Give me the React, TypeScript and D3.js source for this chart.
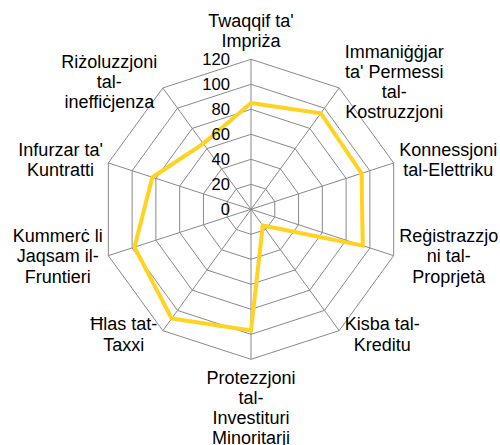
import * as d3 from "d3";

const categories = [
  ["Twaqqif ta'", "Impriża"],
  ["Immaniġġjar", "ta' Permessi", "tal-", "Kostruzzjoni"],
  ["Konnessjoni", "tal-Elettriku"],
  ["Reġistrazzjo", "ni tal-", "Proprjetà"],
  ["Kisba tal-", "Kreditu"],
  ["Protezzjoni", "tal-", "Investituri", "Minoritarji"],
  ["Ħlas tat-", "Taxxi"],
  ["Kummerċ li", "Jaqsam il-", "Fruntieri"],
  ["Infurzar ta'", "Kuntratti"],
  ["Riżoluzzjoni", "tal-", "ineffiċjenza"],
];

const values = [85, 95, 93, 94, 16, 97, 108, 98, 83, 65];

const ticks = [0, 20, 40, 60, 80, 100, 120];

const width = 500;
const height = 445;
const cx = 251;
const cy = 209.3;
const radius = 150;
const fontFamily = "'Liberation Sans', Arial, sans-serif";
const labelSize = 18;
const lineH = 20.2;
const gridColor = "#898989";
const lineColor = "#FFD320";

let ctx: CanvasRenderingContext2D | null = null;
const textWidth = (s: string) => {
  if (!ctx) ctx = document.createElement("canvas").getContext("2d");
  ctx!.font = `${labelSize}px ${fontFamily}`;
  return ctx!.measureText(s).width;
};

const App = () => {
  const n = categories.length;
  const r = d3.scaleLinear().domain([0, 120]).range([0, radius]);
  const angle = (i: number) => (i * 2 * Math.PI) / n;
  const pt = (i: number, v: number): [number, number] => [
    cx + r(v) * Math.sin(angle(i)),
    cy - r(v) * Math.cos(angle(i)),
  ];

  const ring = (v: number) =>
    d3.range(n).map((i) => pt(i, v).join(",")).join(" ");

  const lineGen = d3
    .line<number>()
    .x((d, i) => pt(i, d)[0])
    .y((d, i) => pt(i, d)[1])
    .curve(d3.curveLinearClosed);

  return (
    <div style={{ position: "absolute", left: 0, top: 0 }}>
      <svg width={width} height={height} style={{ display: "block" }}>
        <rect width={width} height={height} fill="#fff" />
        {ticks.slice(1).map((t) => (
          <polygon
            key={t}
            points={ring(t)}
            fill="none"
            stroke={gridColor}
            strokeWidth={1}
          />
        ))}
        {d3.range(n).map((i) => {
          const [x, y] = pt(i, 120);
          return (
            <line
              key={i}
              x1={cx}
              y1={cy}
              x2={x}
              y2={y}
              stroke={gridColor}
              strokeWidth={1}
            />
          );
        })}
        <path
          d={lineGen(values) || ""}
          fill="none"
          stroke={lineColor}
          strokeWidth={4}
          strokeLinejoin="miter"
        />
        {ticks.map((t) => (
          <text
            key={t}
            x={cx - 21}
            y={cy - r(t) + 5.8}
            textAnchor="end"
            fontFamily={fontFamily}
            fontSize={16.6}
            fill="#000"
          >
            {t}
          </text>
        ))}
        {categories.map((lines, i) => {
          const [vx, vy] = pt(i, 120);
          const dx = Math.sin(angle(i));
          const dy = -Math.cos(angle(i));
          const w = Math.max(...lines.map(textWidth));
          let tx = vx;
          let firstBase = 0;
          if (Math.abs(dx) < 0.01) {
            if (dy < 0) firstBase = vy - 12.6 - (lines.length - 1) * lineH;
            else firstBase = vy + 24.5;
          } else {
            tx = vx + (dx > 0 ? 1 : -1) * (5.5 + w / 2);
            const my = vy + dy * 6 - 1.5;
            firstBase = my - ((lines.length - 1) * lineH) / 2 + 6.4;
          }
          return (
            <text
              key={i}
              textAnchor="middle"
              fontFamily={fontFamily}
              fontSize={labelSize}
              fill="#000"
            >
              {lines.map((l, j) => (
                <tspan key={j} x={tx} y={firstBase + j * lineH}>
                  {l}
                </tspan>
              ))}
            </text>
          );
        })}
      </svg>
    </div>
  );
};

export default App;
